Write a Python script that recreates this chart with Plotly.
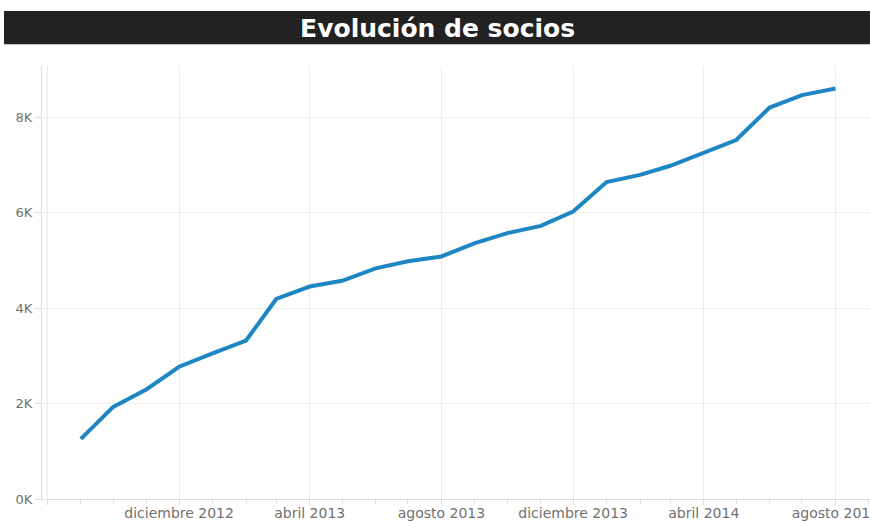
import plotly.graph_objects as go

months = ["2012-09-01", "2012-10-01", "2012-11-01", "2012-12-01", "2013-01-01", "2013-02-01",
          "2013-03-01", "2013-04-01", "2013-05-01", "2013-06-01", "2013-07-01", "2013-08-01",
          "2013-09-01", "2013-10-01", "2013-11-01", "2013-12-01", "2014-01-01", "2014-02-01",
          "2014-03-01", "2014-04-01", "2014-05-01", "2014-06-01", "2014-07-01", "2014-08-01"]
socios = [1260, 1930, 2300, 2770, 3050, 3320,
          4190, 4450, 4570, 4830, 4980, 5080,
          5360, 5570, 5720, 6020, 6640, 6790,
          6980, 7250, 7520, 8200, 8460, 8600]

x_tickvals = ["2012-08-01", "2012-12-01", "2013-04-01", "2013-08-01", "2013-12-01", "2014-04-01", "2014-08-01"]
x_ticktext = ["", "diciembre 2012", "abril 2013", "agosto 2013", "diciembre 2013", "abril 2014", "agosto 2014"]
y_tickvals = [0, 2000, 4000, 6000, 8000]
y_ticktext = ["0K", "2K", "4K", "6K", "8K"]
title_text = "Evolución de socios"

fig = go.Figure()
fig.add_trace(go.Scatter(x=months, y=socios, mode="lines",
                         line=dict(color="#1f86c4", width=4), showlegend=False))

fig.update_layout(
    width=870, height=521,
    margin=dict(l=42, r=0, t=66, b=22, autoexpand=False),
    paper_bgcolor="white", plot_bgcolor="white",
    font=dict(family="DejaVu Sans", color="#707070", size=13),
    title=dict(text=title_text, x=0.503, xanchor="center", y=1 - 28.0 / 521, yanchor="middle",
               font=dict(family="DejaVu Sans", size=25, color="white", weight="bold")),
    shapes=[dict(type="rect", xref="paper", yref="paper",
                 x0=(4 - 42) / 828, x1=1.0, y0=(499 - 44.3) / 433, y1=(499 - 11) / 433,
                 fillcolor="#222222", line=dict(width=0), layer="below")],
)

fig.update_xaxes(
    type="date", range=["2012-07-27", "2014-09-02"],
    tickvals=x_tickvals, ticktext=x_ticktext,
    showgrid=True, gridcolor="#ececec", gridwidth=1,
    ticks="outside", ticklen=5, tickcolor="#dddddd",
    showline=True, linecolor="#dddddd", linewidth=1,
    tickfont=dict(family="DejaVu Sans", size=14, color="#707070"),
    ticklabeloverflow="allow", automargin=False, ticklabelstandoff=-4,
    minor=dict(dtick="M1", tick0="2012-08-01", ticks="outside", ticklen=4, tickcolor="#dddddd", showgrid=False),
    mirror=False, zeroline=False,
)
fig.update_yaxes(
    range=[0, 9070],
    tickvals=y_tickvals, ticktext=y_ticktext,
    showgrid=True, gridcolor="#efefef", gridwidth=1,
    ticks="outside", ticklen=6, tickcolor="#dddddd",
    showline=True, linecolor="#dddddd", linewidth=1, mirror=True,
    tickfont=dict(family="DejaVu Sans", size=13, color="#707070"),
    automargin=False, zeroline=False,
)

fig.write_html(
    "out.html", config={"displayModeBar": False},
    post_script="document.body.style.margin='0';",
)
